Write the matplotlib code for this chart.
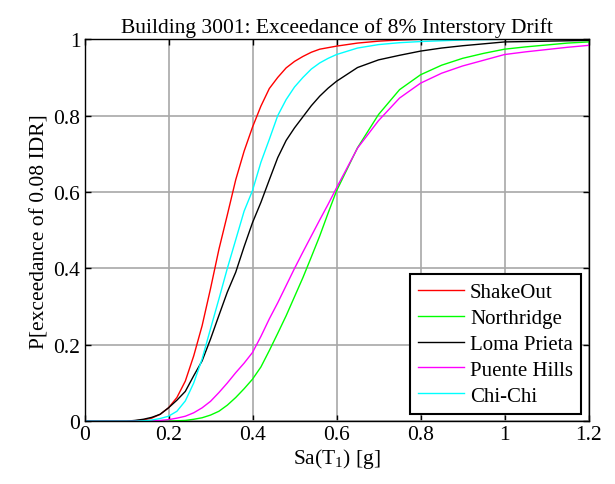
import matplotlib
matplotlib.use("Agg")
import matplotlib.pyplot as plt
from matplotlib.ticker import FormatStrFormatter

# Spectral acceleration grid, Sa(T1) in g
sa = [0.00, 0.10, 0.12, 0.14, 0.16, 0.18, 0.20, 0.22, 0.24, 0.26, 0.28, 0.30,
      0.32, 0.34, 0.36, 0.38, 0.40, 0.42, 0.44, 0.46, 0.48, 0.50, 0.52, 0.54,
      0.56, 0.58, 0.60, 0.65, 0.70, 0.75, 0.80, 0.85, 0.90, 0.95, 1.00, 1.05,
      1.10, 1.15, 1.20]

shakeout = [0, 0, 0.001, 0.003, 0.008, 0.018, 0.035, 0.062, 0.105, 0.171, 0.25, 0.347,
            0.45, 0.54, 0.632, 0.707, 0.77, 0.825, 0.871, 0.90, 0.925, 0.942, 0.955, 0.966,
            0.974, 0.978, 0.982, 0.99, 0.995, 0.998, 1.0, 1.0, 1.0, 1.0, 1.0, 1.0,
            1.0, 1.0, 1.0]

northridge = [0, 0, 0, 0, 0, 0, 0, 0.001, 0.002, 0.005, 0.009, 0.016,
              0.026, 0.042, 0.062, 0.085, 0.11, 0.142, 0.185, 0.23, 0.276, 0.326, 0.376, 0.43,
              0.485, 0.545, 0.603, 0.716, 0.803, 0.868, 0.907, 0.932, 0.95, 0.963, 0.974, 0.98,
              0.985, 0.99, 0.993]

loma_prieta = [0, 0, 0.002, 0.005, 0.01, 0.018, 0.035, 0.055, 0.078, 0.119, 0.158, 0.215,
               0.277, 0.338, 0.39, 0.457, 0.52, 0.573, 0.632, 0.69, 0.735, 0.768, 0.797, 0.826,
               0.851, 0.872, 0.89, 0.926, 0.946, 0.958, 0.969, 0.977, 0.983, 0.988, 0.993, 0.994,
               0.995, 0.996, 0.997]

puente_hills = [0, 0, 0, 0, 0.001, 0.002, 0.004, 0.008, 0.013, 0.022, 0.035, 0.052,
                0.075, 0.10, 0.127, 0.152, 0.18, 0.222, 0.268, 0.31, 0.355, 0.40, 0.443, 0.485,
                0.527, 0.568, 0.611, 0.715, 0.787, 0.846, 0.885, 0.911, 0.93, 0.945, 0.96, 0.967,
                0.973, 0.979, 0.984]

chi_chi = [0, 0, 0, 0.001, 0.003, 0.007, 0.013, 0.026, 0.053, 0.10, 0.163, 0.242,
           0.32, 0.40, 0.475, 0.55, 0.604, 0.678, 0.738, 0.80, 0.842, 0.875, 0.90, 0.922,
           0.938, 0.95, 0.96, 0.977, 0.986, 0.991, 0.994, 0.996, 0.998, 0.999, 1.0, 1.0,
           1.0, 1.0, 1.0]

series_names = ["ShakeOut", "Northridge", "Loma Prieta", "Puente Hills", "Chi-Chi"]
series_data = [shakeout, northridge, loma_prieta, puente_hills, chi_chi]
series_colors = ["#ff0000", "#00ff00", "#000000", "#ff00ff", "#00ffff"]

x_ticks = [0, 0.2, 0.4, 0.6, 0.8, 1.0, 1.2]
y_ticks = [0, 0.2, 0.4, 0.6, 0.8, 1.0]

plt.rcParams["font.family"] = ["Liberation Serif", "DejaVu Serif"]
plt.rcParams["mathtext.fontset"] = "custom"
plt.rcParams["mathtext.rm"] = "Liberation Serif"
plt.rcParams["mathtext.it"] = "Liberation Serif:italic"

FS = 15.5

fig = plt.figure(figsize=(6.15, 4.85), dpi=100)
ax = fig.add_axes([0.1374, 0.1295, 0.8196, 0.7875])

for name, vals, col in zip(series_names, series_data, series_colors):
    ax.plot(sa, vals, color=col, linewidth=1.0, label=name)

ax.set_xlim(0, 1.2)
ax.set_ylim(0, 1)
ax.set_xticks(x_ticks)
ax.set_yticks(y_ticks)
ax.xaxis.set_major_formatter(FormatStrFormatter("%g"))
ax.yaxis.set_major_formatter(FormatStrFormatter("%g"))
ax.tick_params(direction="in", top=True, right=True, length=4, width=1,
               labelsize=FS, pad=3)
ax.grid(True, color="#a8a8a8", linewidth=1.2)
ax.set_axisbelow(True)
for sp in ax.spines.values():
    sp.set_linewidth(1.0)

ax.set_title("Building 3001: Exceedance of 8% Interstory Drift", fontsize=FS, pad=5)
ax.set_xlabel("Sa(T$_1$) [g]", fontsize=FS, labelpad=1)
ax.set_ylabel("P[exceedance of 0.08 IDR]", fontsize=FS, labelpad=3)

leg = ax.legend(loc="lower right", fontsize=FS - 0.5, fancybox=False, framealpha=1,
                edgecolor="black", handlelength=2.2, handletextpad=0.3,
                borderaxespad=0.35, labelspacing=0.3, borderpad=0.4)
leg.get_frame().set_linewidth(1.5)

fig.savefig("out.png", dpi=100)
